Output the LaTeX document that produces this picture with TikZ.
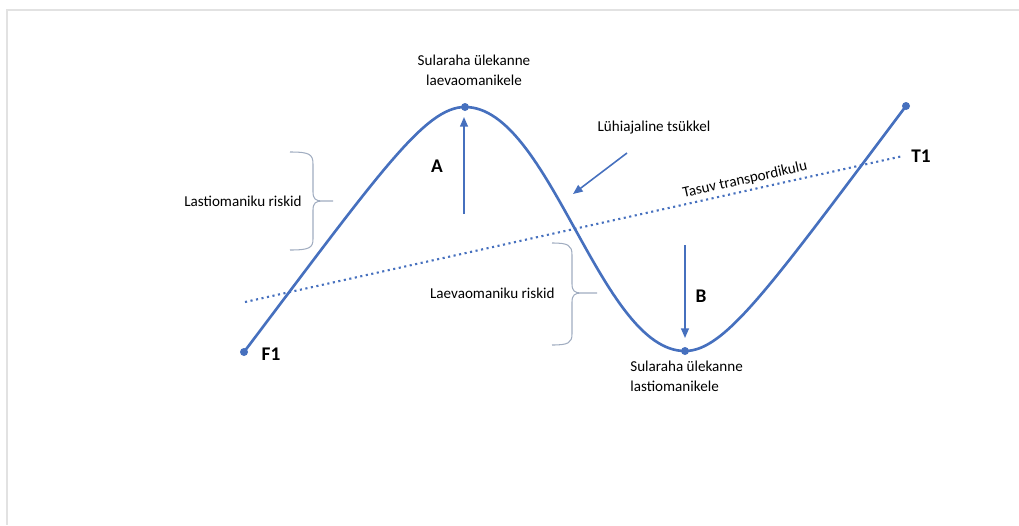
\documentclass[tikz,border=0pt]{standalone}
\usepackage{fontspec}
\setmainfont{Carlito}
\usetikzlibrary{arrows.meta}

\definecolor{curveblue}{RGB}{70,112,190}
\definecolor{bracegray}{RGB}{160,172,192}
\definecolor{framegray}{RGB}{226,226,226}

\tikzset{
    dot/.style={circle, fill=curveblue, inner sep=0pt, minimum size=0.16cm},
    lbl/.style={font=\fontsize{8.6}{11.4}\selectfont, inner sep=0pt},
    biglbl/.style={font=\fontsize{11}{13}\selectfont\bfseries, inner sep=0pt},
    pointer/.style={curveblue, line width=0.9pt, -{Triangle[length=5.5pt,width=4.5pt]}},
    riskbrace/.style={bracegray, line width=0.6pt},
}

\begin{document}
\begin{tikzpicture}[x=0.02cm, y=-0.02cm]
    \useasboundingbox (0,0) rectangle (1019,525);
    % faint frame
    \draw[framegray, line width=0.8pt] (7,525) -- (7,10) -- (1019,10);

    % cycle points
    \node[dot] (F1) at (244,352) {};
    \node[dot] (top) at (465,107) {};
    \node[dot] (low) at (685,351) {};
    \node[dot] (T1end) at (906,106) {};

    % break-even line
    \coordinate (D1) at (245,302);
    \coordinate (D2) at (903,156);
    \draw[curveblue, line width=1.2pt, dotted] (D1) -- (D2);
    \node[lbl, rotate=12.5] (cost) at (745,180) {Tasuv transpordikulu};

    % short cycle
    \draw[curveblue, line width=1.5pt] (F1.center) .. controls (380,172) and (425,107) .. (top.center)
        .. controls (550,107) and (600,351) .. (low.center)
        .. controls (725,351) and (770,287) .. (T1end.center);

    % transfers
    \coordinate (a0) at (464,214);
    \coordinate (a1) at (464,117);
    \draw[pointer] (a0) -- (a1);
    \coordinate (b0) at (685,245);
    \coordinate (b1) at (685,338);
    \draw[pointer] (b0) -- (b1);

    \node[biglbl] (A) at (437,166) {A};
    \node[biglbl] (B) at (701,296) {B};
    \node[biglbl] (F1lbl) at (271,354) {F1};
    \node[biglbl] (T1lbl) at (921,156) {T1};

    \node[lbl, align=center] (cashup) at (474,70) {Sularaha ülekanne\\laevaomanikele};
    \node[lbl, align=left, anchor=north west] (cashdown) at (630,361) {Sularaha ülekanne\\lastiomanikele};

    \node[lbl] (cycle) at (654,128) {Lühiajaline tsükkel};
    \coordinate (c0) at (627,153);
    \coordinate (c1) at (573,194);
    \draw[pointer] (c0) -- (c1);

    % risks
    \draw[riskbrace] (290,152) .. controls (309,152) and (313,154) .. (313,164) -- (313,192)
        .. controls (313,199) and (316,201) .. (322,201) -- (333,201)
        (322,201) .. controls (316,201) and (313,203) .. (313,210) -- (313,239)
        .. controls (313,248) and (309,250) .. (290,250);
    \node[lbl, anchor=east] (cargo) at (302,201) {Lastiomaniku riskid};
    \draw[riskbrace] (552,243) .. controls (568,243) and (572,245) .. (572,255) -- (572,284)
        .. controls (572,291) and (575,293) .. (581,293) -- (597,293)
        (581,293) .. controls (575,293) and (572,295) .. (572,302) -- (572,334)
        .. controls (572,343) and (568,345) .. (552,345);
    \node[lbl, anchor=east] (ship) at (555,293) {Laevaomaniku riskid};
\end{tikzpicture}
\end{document}
